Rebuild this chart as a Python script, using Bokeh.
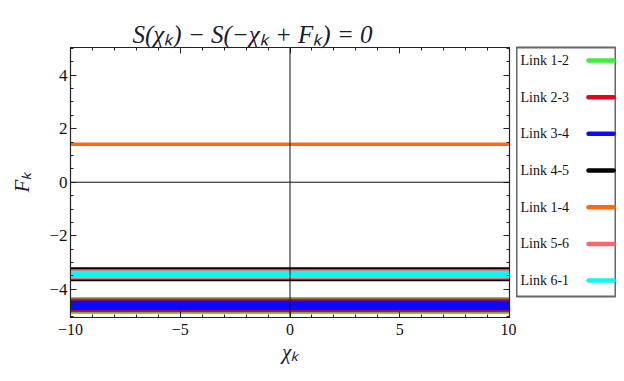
from bokeh.plotting import figure
from bokeh.layouts import row
from bokeh.models import (ColumnDataSource, Range1d, FixedTicker, LinearAxis, Span, Title,
                          CustomJSTickFormatter)
from bokeh.embed import file_html
from bokeh.resources import INLINE
from bokeh.core.properties import value

# ---- data ----
links = ["Link 1-2", "Link 2-3", "Link 3-4", "Link 4-5", "Link 1-4", "Link 5-6", "Link 6-1"]
colors = ["#3cf03c", "#e8001e", "#0a0aff", "#000000", "#ff6a10", "#ff6670", "#10f5f5"]
F_12 = [-4.35, -4.85]
F_23 = [-4.41, -4.79]
F_34 = [-4.48, -4.56, -4.64, -4.71]
F_45 = [-3.24, -3.63]
F_14 = [1.42]
F_56 = [-3.31, -3.57]
F_61 = [-3.37, -3.44, -3.51]
F_all = [F_12, F_23, F_34, F_45, F_14, F_56, F_61]
chi_span = [-10, 10]
x_ticks = [-10, -5, 0, 5, 10]
x_minor = [v for v in range(-10, 11) if v % 5 != 0]
y_ticks = [-4, -2, 0, 2, 4]
y_minor = [-5, -4.5, -3.5, -3, -2.5, -1.5, -1, -0.5, 0.5, 1, 1.5, 2.5, 3, 3.5, 4.5, 5]
y_lim = [-5.05, 5.03]
title_text = "S(\u03c7\u2096) \u2212 S(\u2212\u03c7\u2096 + F\u2096) = 0"

SERIF = "Liberation Serif"

p = figure(frame_width=439, frame_height=270, output_backend="svg", toolbar_location=None,
           x_range=Range1d(chi_span[0], chi_span[1]), y_range=Range1d(y_lim[0], y_lim[1]),
           min_border_left=70, min_border_right=7, min_border_top=43, min_border_bottom=52,
           x_axis_label="\u03c7\u2096", y_axis_label="F\u2096")
p.title = Title(text=title_text, align="left", offset=62,
                text_font=SERIF, text_font_style="italic", text_font_size="25px",
                text_color="#1a1a2e", standoff=0)
p.grid.visible = False
p.outline_line_color = "#222222"
p.outline_line_width = 1.2
p.background_fill_color = "white"
p.border_fill_color = "white"

xt = FixedTicker(ticks=x_ticks, minor_ticks=x_minor)
yt = FixedTicker(ticks=y_ticks, minor_ticks=y_minor)
p.xaxis.ticker = xt
p.yaxis.ticker = yt
over_x = {t: (f"\u2212{abs(t)}" if t < 0 else str(t)) for t in x_ticks}
over_y = {t: (f"\u2212{abs(t)}" if t < 0 else str(t)) for t in y_ticks}
p.xaxis.major_label_overrides = over_x
p.yaxis.major_label_overrides = over_y

for ax in [p.xaxis[0], p.yaxis[0]]:
    ax.major_tick_in = 6
    ax.major_tick_out = 0
    ax.minor_tick_in = 3
    ax.minor_tick_out = 0
    ax.axis_line_color = "#222222"
    ax.major_tick_line_color = "#222222"
    ax.minor_tick_line_color = "#222222"
    ax.major_label_text_font = SERIF
    ax.major_label_text_font_size = "17px"
    ax.major_label_text_color = "#111111"
    ax.axis_label_text_font = SERIF
    ax.axis_label_text_font_style = "italic"
    ax.axis_label_text_font_size = "21px"
    ax.axis_label_text_color = "#1a1a40"
p.xaxis.major_label_text_font_size = "16px"
p.xaxis.major_label_standoff = 6
p.yaxis.major_label_standoff = 3
p.xaxis.axis_label_standoff = 2
p.yaxis.axis_label_standoff = 12

# top and right frame ticks (no labels)
blank = CustomJSTickFormatter(code="return ''")
top = LinearAxis(ticker=FixedTicker(ticks=x_ticks, minor_ticks=x_minor), formatter=blank)
right = LinearAxis(ticker=FixedTicker(ticks=y_ticks, minor_ticks=y_minor), formatter=blank)
for ax in [top, right]:
    ax.major_tick_in = 6
    ax.major_tick_out = 0
    ax.minor_tick_in = 3
    ax.minor_tick_out = 0
    ax.major_label_standoff = 0
    ax.axis_line_color = "#222222"
    ax.major_tick_line_color = "#222222"
    ax.minor_tick_line_color = "#222222"
p.add_layout(top, "above")
p.add_layout(right, "right")

# axes through the origin
p.add_layout(Span(location=0, dimension="width", line_color="#111111", line_width=1))
p.add_layout(Span(location=0, dimension="height", line_color="#111111", line_width=1))

for name, col, Fs in zip(links, colors, F_all):
    src = ColumnDataSource(dict(x0=[chi_span[0]] * len(Fs), x1=[chi_span[1]] * len(Fs), y=Fs))
    p.segment(x0="x0", x1="x1", y0="y", y1="y", source=src, line_color=col, line_width=3.5)

# ---- legend panel ----
n = len(links)
leg = figure(frame_width=100, frame_height=249, output_backend="svg", toolbar_location=None,
             x_range=Range1d(0, 100), y_range=Range1d(6.435, -0.355),
             min_border_left=0, min_border_right=0, min_border_top=47, min_border_bottom=20)
leg.axis.visible = False
leg.grid.visible = False
leg.outline_line_color = "#666666"
leg.outline_line_width = 2
lsrc = ColumnDataSource(dict(idx=list(range(n)), name=links, color=colors,
                             lx0=[72] * n, lx1=[97] * n, tx=[4] * n))
leg.text(x="tx", y="idx", text="name", source=lsrc, text_font=value(SERIF), text_font_size="14px",
         text_baseline="middle", text_align="left", text_color="#111111")
leg.segment(x0="lx0", x1="lx1", y0="idx", y1="idx", source=lsrc, line_color="color",
            line_width=4.5, line_cap="round")

layout = row(p, leg, spacing=0)
open("out.html", "w").write(file_html(layout, INLINE))
